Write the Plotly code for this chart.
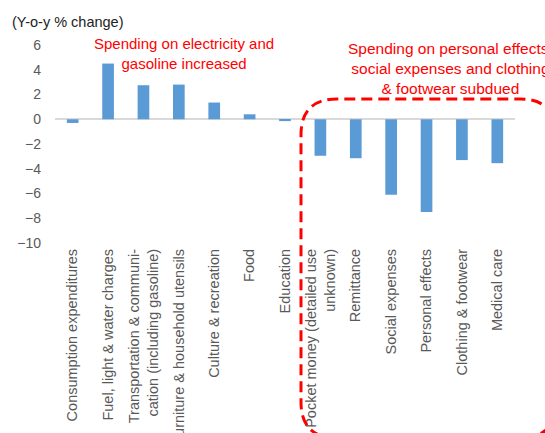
import plotly.graph_objects as go

categories = [
    "Consumption expenditures",
    "Fuel, light & water charges",
    "Transportation & communi-<br>cation (including gasoline)",
    "Furniture & household utensils",
    "Culture & recreation",
    "Food",
    "Education",
    "Pocket money (detailed use<br>unknown)",
    "Remittance",
    "Social expenses",
    "Personal effects",
    "Clothing & footwear",
    "Medical care",
]
values = [-0.3, 4.5, 2.75, 2.8, 1.35, 0.4, -0.15, -2.95, -3.15, -6.1, -7.5, -3.3, -3.55]
y_ticks = [-10, -8, -6, -4, -2, 0, 2, 4, 6]

W, H = 545, 433
ML, MR, MT, MB = 55, 30, 45, 190
PW, PH = W - ML - MR, H - MT - MB

def px(x):
    return (x - ML) / PW

def py(y):
    return (H - MB - y) / PH

fig = go.Figure()
fig.add_trace(go.Bar(
    x=list(range(len(categories))), y=values,
    marker=dict(color="#5B9BD5", line=dict(width=0)),
    width=0.33,
))

font = "Liberation Sans, Arial, sans-serif"
fig.update_layout(
    width=W, height=H,
    margin=dict(l=ML, r=MR, t=MT, b=MB, autoexpand=False),
    paper_bgcolor="white", plot_bgcolor="white",
    showlegend=False,
    font=dict(family=font, size=14, color="#595959"),
    xaxis=dict(
        tickmode="array", tickvals=list(range(len(categories))), ticktext=categories,
        tickangle=-90, range=[-0.5, len(categories) - 0.5], automargin=False,
        showgrid=False, showline=False, zeroline=False, ticks="",
        tickfont=dict(size=14.5, color="#595959"), ticklabelstandoff=2,
    ),
    yaxis=dict(
        range=[-10, 6], tickmode="array", tickvals=y_ticks, automargin=False,
        showgrid=False, showline=False, zeroline=True,
        zerolinecolor="#D9D9D9", zerolinewidth=1.5, ticks="",
        tickfont=dict(size=14, color="#595959"), ticklabelstandoff=13,
    ),
)

fig.add_annotation(
    x=px(10), y=py(22), xref="paper", yref="paper", xanchor="left", yanchor="middle",
    text="(Y-o-y % change)", showarrow=False,
    font=dict(family=font, size=14.5, color="#222222"),
)
fig.add_annotation(
    x=px(184), y=py(53), xref="paper", yref="paper", xanchor="center", yanchor="middle",
    text="Spending on electricity and<br>gasoline increased", showarrow=False,
    font=dict(family=font, size=15, color="#FF0000"),
)
fig.add_annotation(
    x=px(450), y=py(68), xref="paper", yref="paper", xanchor="center", yanchor="middle",
    text="Spending on personal effects,<br>social expenses and clothing<br>& footwear subdued",
    showarrow=False,
    font=dict(family=font, size=15.5, color="#FF0000"),
)

# dashed rounded rectangle (pixel geometry converted to paper)
x0, x1, y0, y1, r = 301, 556, 99, 438, 36
pts = [
    ("M", [(x0 + r, y1)]),
    ("Q", [(x0, y1), (x0, y1 - r)]),
    ("L", [(x0, y0 + r)]),
    ("Q", [(x0, y0), (x0 + r, y0)]),
    ("L", [(x1 - r, y0)]),
    ("Q", [(x1, y0), (x1, y0 + r)]),
    ("L", [(x1, y1 - r)]),
    ("Q", [(x1, y1), (x1 - r, y1)]),
]
path = ""
for cmd, ps in pts:
    path += cmd + " " + " ".join(f"{px(a):.5f},{py(b):.5f}" for a, b in ps) + " "
path += "Z"
fig.add_shape(
    type="path", path=path, xref="paper", yref="paper",
    line=dict(color="#FF0000", width=3, dash="11px,6px"),
    fillcolor="rgba(0,0,0,0)", layer="above",
)

fig.write_html("out.html")
